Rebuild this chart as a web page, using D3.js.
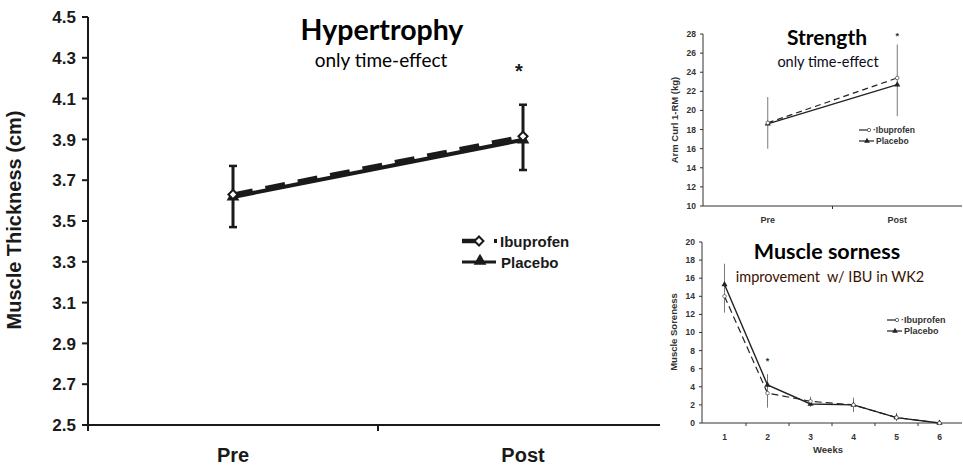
<!DOCTYPE html>
<html>
<head>
<meta charset="utf-8">
<script src="https://cdn.jsdelivr.net/npm/d3@7"></script>
<style>
  body { margin: 0; background: #fff; }
  svg { display: block; }
</style>
</head>
<body>
<svg width="963" height="467"></svg>
<script>
// ---- data ----
var phases = ["Pre", "Post"];

// hypertrophy (muscle thickness, cm)
var thickIbu = [3.63, 3.915];
var thickPla = [3.618, 3.898];
var thickErrHi = [3.77, 4.07];
var thickErrLo = [3.47, 3.75];
var thickTicks = [2.5, 2.7, 2.9, 3.1, 3.3, 3.5, 3.7, 3.9, 4.1, 4.3, 4.5];

// strength (arm curl 1-RM, kg)
var strIbu = [18.7, 23.4];
var strPla = [18.6, 22.7];
var strErrHi = [21.4, 26.9];
var strErrLo = [16.0, 19.4];
var strTicks = [10, 12, 14, 16, 18, 20, 22, 24, 26, 28];

// muscle soreness per week
var weeks = [1, 2, 3, 4, 5, 6];
var soreIbu = [14.0, 3.3, 2.4, 2.0, 0.6, 0.0];
var sorePla = [15.3, 4.2, 2.1, 2.0, 0.6, 0.0];
var soreErrHi = [17.6, 5.4, 2.9, 2.8, 1.1, 0];
var soreErrLo = [12.2, 1.7, 1.8, 1.2, 0.2, 0];
var soreTicks = [0, 2, 4, 6, 8, 10, 12, 14, 16, 18, 20];

var ARIAL = "'Liberation Sans', Arial, Helvetica, sans-serif";
var CALIBRI = "Lato, 'Open Sans', sans-serif";

var svg = d3.select("svg").attr("font-family", ARIAL);

// ============ big chart: Hypertrophy ============
var x1 = d3.scaleBand().domain(phases).range([88, 668]);
var y1 = d3.scaleLinear().domain([2.5, 4.5]).range([425, 17]);
var g1 = svg.append("g");

// y axis
g1.append("line").attr("x1", 88).attr("x2", 88).attr("y1", y1(4.5)).attr("y2", y1(2.5) + 6)
  .attr("stroke", "#1a1a1a").attr("stroke-width", 2);
g1.selectAll(".yt").data(thickTicks).enter().append("line")
  .attr("x1", 82).attr("x2", 88).attr("y1", d => y1(d)).attr("y2", d => y1(d))
  .attr("stroke", "#1a1a1a").attr("stroke-width", 2);
g1.selectAll(".yl").data(thickTicks).enter().append("text")
  .attr("x", 76).attr("y", d => y1(d)).attr("dy", "0.36em")
  .attr("text-anchor", "end").attr("font-size", 17).attr("font-weight", "bold")
  .attr("fill", "#1a1a1a").text(d => d.toFixed(1));
g1.append("text").attr("transform", "translate(21,220) rotate(-90)")
  .attr("text-anchor", "middle").attr("font-size", 20).attr("font-weight", "bold")
  .attr("fill", "#1a1a1a").text("Muscle Thickness (cm)");

// x axis
g1.append("line").attr("x1", 82).attr("x2", 660).attr("y1", 425).attr("y2", 425)
  .attr("stroke", "#1a1a1a").attr("stroke-width", 2);
var mid1 = x1("Post");
g1.append("line").attr("x1", mid1).attr("x2", mid1).attr("y1", 425).attr("y2", 431)
  .attr("stroke", "#1a1a1a").attr("stroke-width", 2);
g1.selectAll(".xl").data(phases).enter().append("text")
  .attr("x", d => x1(d) + x1.bandwidth() / 2).attr("y", 462)
  .attr("text-anchor", "middle").attr("font-size", 20).attr("font-weight", "bold")
  .attr("fill", "#1a1a1a").text(d => d);

var cx1 = d => x1(d) + x1.bandwidth() / 2;

// error bars
phases.forEach(function (p, i) {
  var xx = cx1(p);
  g1.append("line").attr("x1", xx).attr("x2", xx).attr("y1", y1(thickErrHi[i])).attr("y2", y1(thickErrLo[i]))
    .attr("stroke", "#1a1a1a").attr("stroke-width", 3);
  [thickErrHi[i], thickErrLo[i]].forEach(function (v) {
    g1.append("line").attr("x1", xx - 4).attr("x2", xx + 4).attr("y1", y1(v)).attr("y2", y1(v))
      .attr("stroke", "#1a1a1a").attr("stroke-width", 2.5);
  });
});

var line1 = d3.line().x((d, i) => cx1(phases[i])).y(d => y1(d));
g1.append("path").datum(thickPla).attr("d", line1).attr("fill", "none")
  .attr("stroke", "#1a1a1a").attr("stroke-width", 4);
g1.append("path").datum(thickIbu).attr("d", line1).attr("fill", "none")
  .attr("stroke", "#1a1a1a").attr("stroke-width", 4).attr("stroke-dasharray", "20,13");

// markers
var tri = d3.symbol().type(d3.symbolTriangle);
var sq = d3.symbol().type(d3.symbolSquare);
g1.selectAll(".pm").data(thickPla).enter().append("path")
  .attr("d", tri.size(70)).attr("transform", (d, i) => "translate(" + cx1(phases[i]) + "," + y1(d) + ")")
  .attr("fill", "#1a1a1a");
g1.selectAll(".im").data(thickIbu).enter().append("path")
  .attr("d", sq.size(42)).attr("transform", (d, i) => "translate(" + cx1(phases[i]) + "," + y1(d) + ") rotate(45)")
  .attr("fill", "#fff").attr("stroke", "#1a1a1a").attr("stroke-width", 2);

g1.append("text").attr("x", cx1("Post") - 4).attr("y", 78).attr("text-anchor", "middle")
  .attr("font-size", 20).attr("font-weight", "bold").attr("fill", "#1a1a1a").text("*");

// legend
g1.append("line").attr("x1", 462).attr("x2", 476).attr("y1", 241).attr("y2", 241)
  .attr("stroke", "#1a1a1a").attr("stroke-width", 4.5);
g1.append("path").attr("d", sq.size(40)).attr("transform", "translate(479,241) rotate(45)")
  .attr("fill", "#fff").attr("stroke", "#1a1a1a").attr("stroke-width", 2);
g1.append("rect").attr("x", 494).attr("y", 239).attr("width", 3).attr("height", 4).attr("fill", "#1a1a1a");
g1.append("text").attr("x", 500).attr("y", 247).attr("font-size", 15).attr("font-weight", "bold")
  .attr("fill", "#1a1a1a").text("Ibuprofen");
g1.append("line").attr("x1", 462).attr("x2", 496).attr("y1", 262).attr("y2", 262)
  .attr("stroke", "#1a1a1a").attr("stroke-width", 3);
g1.append("path").attr("d", tri.size(70)).attr("transform", "translate(480,261)").attr("fill", "#1a1a1a");
g1.append("text").attr("x", 501).attr("y", 268).attr("font-size", 15).attr("font-weight", "bold")
  .attr("fill", "#1a1a1a").text("Placebo");

g1.append("text").attr("font-family", CALIBRI).attr("x", 382).attr("y", 40).attr("text-anchor", "middle")
  .attr("font-size", 28.5).attr("font-weight", "bold").attr("fill", "#000").text("Hypertrophy");
g1.append("text").attr("font-family", CALIBRI).attr("x", 381).attr("y", 67).attr("text-anchor", "middle")
  .attr("font-size", 19).attr("fill", "#000").text("only time-effect");

// ============ small chart helpers ============
function smallYAxis(g, y, ticks, x0, title, tx, ty, fs) {
  g.append("line").attr("x1", x0).attr("x2", x0).attr("y1", y(ticks[ticks.length - 1])).attr("y2", y(ticks[0]))
    .attr("stroke", "#333").attr("stroke-width", 1);
  g.selectAll(null).data(ticks).enter().append("line")
    .attr("x1", x0 - 3).attr("x2", x0).attr("y1", d => y(d)).attr("y2", d => y(d))
    .attr("stroke", "#333").attr("stroke-width", 1);
  g.selectAll(null).data(ticks).enter().append("text")
    .attr("x", x0 - 7).attr("y", d => y(d)).attr("dy", "0.35em").attr("text-anchor", "end")
    .attr("font-size", 8.5).attr("font-weight", "bold").attr("fill", "#333").text(d => d);
  g.append("text").attr("transform", "translate(" + tx + "," + ty + ") rotate(-90)")
    .attr("text-anchor", "middle").attr("font-size", fs).attr("font-weight", "bold")
    .attr("fill", "#333").text(title);
}

// ============ Strength ============
var x2 = d3.scaleBand().domain(phases).range([703, 962]);
var y2 = d3.scaleLinear().domain([10, 28]).range([206, 34]);
var g2 = svg.append("g");
var cx2 = d => x2(d) + x2.bandwidth() / 2;
smallYAxis(g2, y2, strTicks, 703, "Arm Curl 1-RM (kg)", 678, 120, 9.5);
g2.append("line").attr("x1", 703).attr("x2", 962).attr("y1", 206).attr("y2", 206)
  .attr("stroke", "#333").attr("stroke-width", 1);
g2.append("line").attr("x1", x2("Post")).attr("x2", x2("Post")).attr("y1", 206).attr("y2", 209)
  .attr("stroke", "#333").attr("stroke-width", 1);
g2.selectAll(null).data(phases).enter().append("text")
  .attr("x", d => cx2(d)).attr("y", 223).attr("text-anchor", "middle")
  .attr("font-size", 9).attr("font-weight", "bold").attr("fill", "#333").text(d => d);
phases.forEach(function (p, i) {
  g2.append("line").attr("x1", cx2(p)).attr("x2", cx2(p)).attr("y1", y2(strErrHi[i])).attr("y2", y2(strErrLo[i]))
    .attr("stroke", "#555").attr("stroke-width", 0.8);
});
var line2 = d3.line().x((d, i) => cx2(phases[i])).y(d => y2(d));
g2.append("path").datum(strPla).attr("d", line2).attr("fill", "none").attr("stroke", "#222").attr("stroke-width", 1.2);
g2.append("path").datum(strIbu).attr("d", line2).attr("fill", "none").attr("stroke", "#222")
  .attr("stroke-width", 1.2).attr("stroke-dasharray", "6,4");
g2.selectAll(null).data(strPla).enter().append("path").attr("d", tri.size(16))
  .attr("transform", (d, i) => "translate(" + cx2(phases[i]) + "," + y2(d) + ")").attr("fill", "#222");
g2.selectAll(null).data(strIbu).enter().append("circle")
  .attr("cx", (d, i) => cx2(phases[i])).attr("cy", d => y2(d)).attr("r", 1.8)
  .attr("fill", "#fff").attr("stroke", "#444").attr("stroke-width", 0.7);
g2.append("text").attr("x", cx2("Post")).attr("y", 39).attr("text-anchor", "middle")
  .attr("font-size", 9).attr("font-weight", "bold").attr("fill", "#333").text("*");

function smallLegend(g, x, y, fs) {
  g.append("line").attr("x1", x).attr("x2", x + 10).attr("y1", y).attr("y2", y).attr("stroke", "#222").attr("stroke-width", 1.2);
  g.append("circle").attr("cx", x + 10).attr("cy", y).attr("r", 1.7).attr("fill", "#fff").attr("stroke", "#333").attr("stroke-width", 0.7);
  g.append("text").attr("x", x + 14).attr("y", y + fs * 0.35).attr("font-size", fs).attr("font-weight", "bold").attr("fill", "#333").text("·Ibuprofen");
  g.append("line").attr("x1", x).attr("x2", x + 15).attr("y1", y + 11).attr("y2", y + 11).attr("stroke", "#222").attr("stroke-width", 1.2);
  g.append("path").attr("d", tri.size(14)).attr("transform", "translate(" + (x + 8) + "," + (y + 11) + ")").attr("fill", "#222");
  g.append("text").attr("x", x + 17).attr("y", y + 11 + fs * 0.35).attr("font-size", fs).attr("font-weight", "bold").attr("fill", "#333").text("Placebo");
}
smallLegend(g2, 859, 130, 8.5);

g2.append("text").attr("font-family", CALIBRI).attr("x", 827).attr("y", 45).attr("text-anchor", "middle")
  .attr("font-size", 21).attr("font-weight", "bold").attr("fill", "#000").text("Strength");
g2.append("text").attr("font-family", CALIBRI).attr("x", 828).attr("y", 67).attr("text-anchor", "middle")
  .attr("font-size", 14.5).attr("fill", "#0a0a1a").text("only time-effect");

// ============ Muscle soreness ============
var x3 = d3.scaleBand().domain(weeks).range([703, 961]);
var y3 = d3.scaleLinear().domain([0, 20]).range([423, 242]);
var g3 = svg.append("g");
var cx3 = d => x3(d) + x3.bandwidth() / 2;
smallYAxis(g3, y3, soreTicks, 702, "Muscle Soreness", 677, 332, 9.5);
g3.append("line").attr("x1", 702).attr("x2", 962).attr("y1", 423).attr("y2", 423)
  .attr("stroke", "#333").attr("stroke-width", 1);
g3.selectAll(null).data(weeks.slice(1)).enter().append("line")
  .attr("x1", d => x3(d)).attr("x2", d => x3(d)).attr("y1", 423).attr("y2", 426)
  .attr("stroke", "#333").attr("stroke-width", 1);
g3.selectAll(null).data(weeks).enter().append("text")
  .attr("x", d => cx3(d)).attr("y", 440).attr("text-anchor", "middle")
  .attr("font-size", 8.5).attr("font-weight", "bold").attr("fill", "#333").text(d => d);
g3.append("text").attr("x", 828).attr("y", 453).attr("text-anchor", "middle")
  .attr("font-size", 9.5).attr("font-weight", "bold").attr("fill", "#333").text("Weeks");
weeks.forEach(function (w, i) {
  if (soreErrHi[i] === soreErrLo[i]) return;
  g3.append("line").attr("x1", cx3(w)).attr("x2", cx3(w)).attr("y1", y3(soreErrHi[i])).attr("y2", y3(soreErrLo[i]))
    .attr("stroke", "#555").attr("stroke-width", 0.8);
});
var line3 = d3.line().x((d, i) => cx3(weeks[i])).y(d => y3(d));
g3.append("path").datum(sorePla).attr("d", line3).attr("fill", "none").attr("stroke", "#222").attr("stroke-width", 1.4);
g3.append("path").datum(soreIbu).attr("d", line3).attr("fill", "none").attr("stroke", "#222")
  .attr("stroke-width", 1.2).attr("stroke-dasharray", "7,4");
g3.selectAll(null).data(sorePla).enter().append("path").attr("d", tri.size(16))
  .attr("transform", (d, i) => "translate(" + cx3(weeks[i]) + "," + y3(d) + ")").attr("fill", "#222");
g3.selectAll(null).data(soreIbu).enter().append("circle")
  .attr("cx", (d, i) => cx3(weeks[i])).attr("cy", d => y3(d)).attr("r", 1.8)
  .attr("fill", "#fff").attr("stroke", "#444").attr("stroke-width", 0.7);
g3.append("text").attr("x", cx3(2)).attr("y", y3(7) + 4).attr("text-anchor", "middle")
  .attr("font-size", 9).attr("font-weight", "bold").attr("fill", "#333").text("*");
smallLegend(g3, 887, 320, 9);

g3.append("text").attr("font-family", CALIBRI).attr("x", 827).attr("y", 259).attr("text-anchor", "middle")
  .attr("font-size", 21.5).attr("font-weight", "bold").attr("fill", "#000").text("Muscle sorness");
g3.append("text").attr("font-family", CALIBRI).attr("x", 830).attr("y", 282).attr("text-anchor", "middle")
  .attr("font-size", 14.5).attr("fill", "#3a1200").attr("xml:space", "preserve").text("improvement  w/ IBU in WK2");
</script>
</body>
</html>
